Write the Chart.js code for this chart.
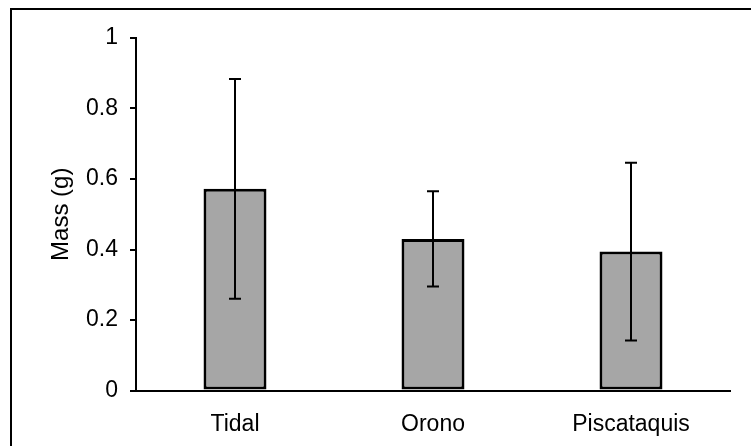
<!DOCTYPE html>
<html>
<head>
<meta charset="utf-8">
<script src="https://cdn.jsdelivr.net/npm/chart.js@4.4.1/dist/chart.umd.min.js"></script>
<style>
  html, body { margin: 0; padding: 0; background: #fff; }
  #wrap { width: 751px; height: 446px; }
</style>
</head>
<body>
<div id="wrap"><canvas id="massChart" width="751" height="446"></canvas></div>
<script>
// mean mass per site, with error bar half-widths
const sites = ['Tidal', 'Orono', 'Piscataquis'];
const meanMass = [0.572, 0.430, 0.394];
const massError = [0.312, 0.135, 0.252];
const yTicks = [0, 0.2, 0.4, 0.6, 0.8, 1];

const FONT = 'Liberation Sans, Arial, sans-serif';

// frame round the whole chart
const frame = {
  id: 'frame',
  beforeDraw(chart) {
    const ctx = chart.ctx;
    ctx.save();
    ctx.strokeStyle = '#000';
    ctx.lineWidth = 2;
    ctx.beginPath();
    ctx.moveTo(11, 460);
    ctx.lineTo(11, 9);
    ctx.lineTo(760, 9);
    ctx.stroke();
    ctx.restore();
  }
};

// error bars with caps
const errorBars = {
  id: 'errorBars',
  afterDatasetsDraw(chart) {
    const ctx = chart.ctx;
    const y = chart.scales.y;
    const bars = chart.getDatasetMeta(0).data;
    ctx.save();
    ctx.strokeStyle = '#000';
    ctx.lineWidth = 2;
    bars.forEach((bar, i) => {
      const top = y.getPixelForValue(meanMass[i] + massError[i]);
      const bottom = y.getPixelForValue(meanMass[i] - massError[i]);
      ctx.beginPath();
      ctx.moveTo(bar.x, top);
      ctx.lineTo(bar.x, bottom);
      ctx.moveTo(bar.x - 6, top);
      ctx.lineTo(bar.x + 6, top);
      ctx.moveTo(bar.x - 6, bottom);
      ctx.lineTo(bar.x + 6, bottom);
      ctx.stroke();
    });
    ctx.restore();
  }
};

new Chart(document.getElementById('massChart'), {
  type: 'bar',
  data: {
    labels: sites,
    datasets: [{
      data: meanMass,
      backgroundColor: '#a6a6a6',
      borderColor: '#000',
      borderWidth: 3,
      borderSkipped: false,
      categoryPercentage: 1,
      barPercentage: 0.318
    }]
  },
  options: {
    responsive: false,
    animation: false,
    devicePixelRatio: 1,
    layout: { padding: { left: 47, top: 38, right: 21, bottom: 0 } },
    plugins: { legend: { display: false }, tooltip: { enabled: false } },
    scales: {
      x: {
        grid: { display: false },
        border: { display: true, color: '#000', width: 2 },
        ticks: { color: '#000', font: { family: FONT, size: 23 }, padding: 12 },
        afterFit(scale) { scale.height = 55.5; }
      },
      y: {
        min: 0,
        max: 1,
        afterBuildTicks(scale) { scale.ticks = yTicks.map(v => ({ value: v })); },
        grid: { drawOnChartArea: false, drawTicks: true, tickLength: 6, color: '#000', lineWidth: 2 },
        border: { display: true, color: '#000', width: 2 },
        ticks: {
          color: '#000',
          font: { family: FONT, size: 23 },
          padding: 12,
          callback: v => String(v)
        },
        title: { display: true, text: 'Mass (g)', color: '#000', font: { family: FONT, size: 24 }, padding: 0 },
        afterFit(scale) { scale.width = 89; }
      }
    }
  },
  plugins: [frame, errorBars]
});
</script>
</body>
</html>
